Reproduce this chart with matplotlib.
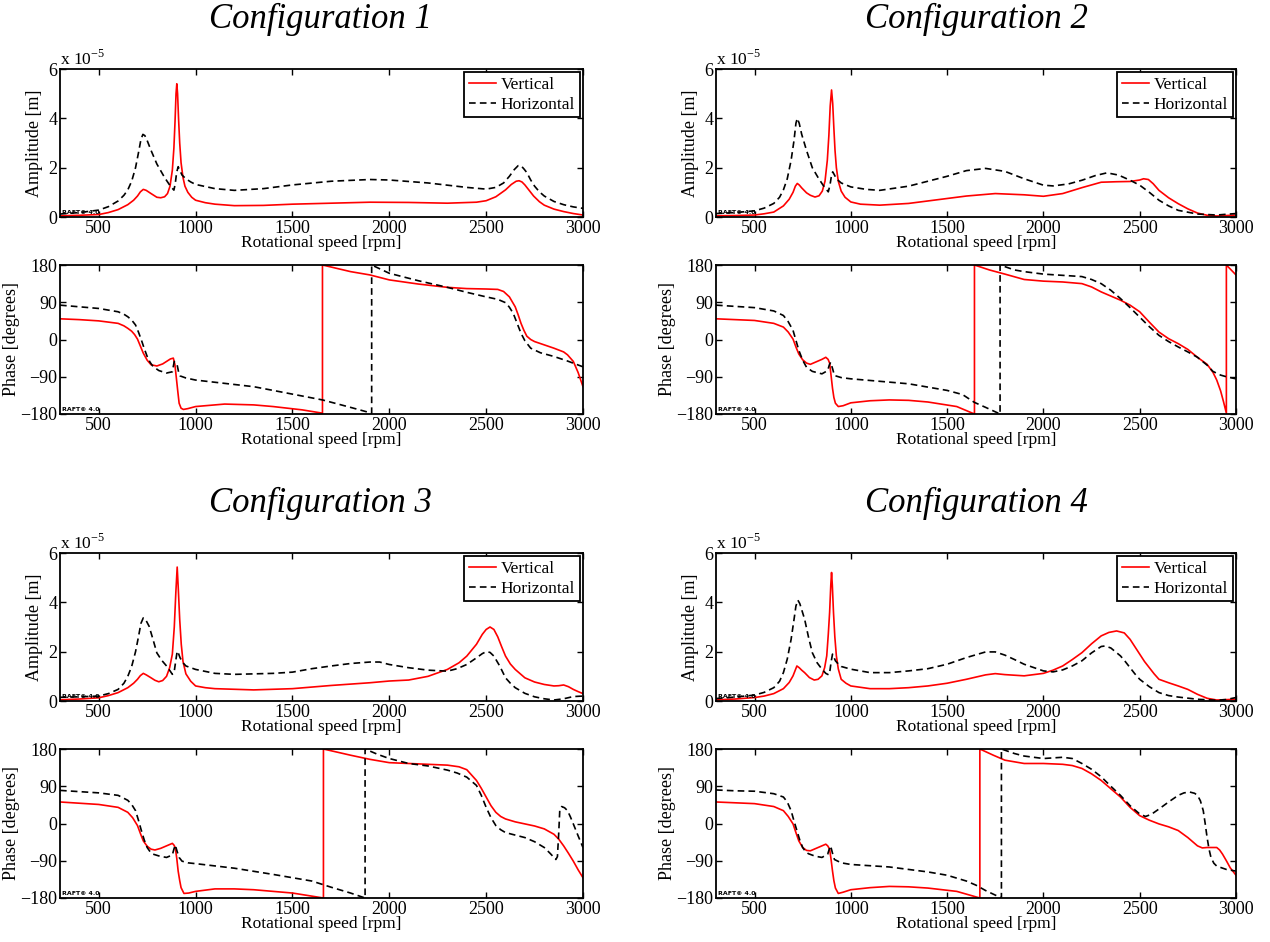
import numpy as np, matplotlib
matplotlib.use("Agg")
import matplotlib.pyplot as plt

plt.rcParams["font.family"] = ["Liberation Serif", "DejaVu Serif"]
plt.rcParams["mathtext.fontset"] = "custom"
plt.rcParams["mathtext.rm"] = "Liberation Serif"

# amplitude in units of 1e-5 m, phase in degrees; pairs are (rpm, value)
c1_amp_v = [(300,.05),(400,.07),(500,.1),(550,.18),(600,.3),(650,.5),(680,.68),(700,.85),(715,1.02),(730,1.12),(745,1.08),(770,.95),(800,.8),(820,.78),(840,.82),(855,.95),(868,1.25),(880,1.9),(888,2.8),(894,3.9),(899,5.0),(903,5.4),(907,5.0),(912,4.0),(918,3.0),(925,2.2),(935,1.6),(945,1.25),(960,1.0),(980,.8),(1000,.68),(1050,.58),(1100,.52),(1200,.46),(1350,.47),(1500,.52),(1700,.56),(1900,.6),(2100,.59),(2300,.56),(2450,.6),(2500,.66),(2550,.82),(2600,1.1),(2630,1.32),(2655,1.45),(2670,1.47),(2685,1.42),(2700,1.3),(2720,1.1),(2745,.85),(2775,.62),(2800,.48),(2850,.32),(2900,.22),(2950,.14),(3000,.08)]
c1_amp_h = [(300,.12),(400,.18),(500,.28),(550,.42),(600,.65),(630,.88),(650,1.1),(670,1.45),(690,2.0),(705,2.6),(718,3.15),(728,3.35),(738,3.3),(750,3.1),(770,2.7),(800,2.15),(840,1.6),(870,1.25),(888,1.09),(895,1.35),(902,1.8),(910,2.04),(918,1.9),(930,1.7),(950,1.55),(975,1.42),(1000,1.32),(1100,1.15),(1200,1.08),(1350,1.15),(1500,1.3),(1700,1.45),(1900,1.52),(2000,1.5),(2200,1.38),(2400,1.2),(2500,1.13),(2550,1.2),(2590,1.38),(2620,1.65),(2645,1.92),(2665,2.08),(2680,2.08),(2695,1.95),(2710,1.8),(2730,1.5),(2750,1.25),(2775,1.02),(2800,.85),(2850,.63),(2900,.5),(2950,.41),(3000,.35)]
c1_ph_v = [(300,50),(400,48),(500,45),(600,39),(630,33),(650,27),(670,20),(685,12),(700,1),(715,-16),(730,-33),(750,-50),(770,-61),(800,-64),(830,-59),(850,-53),(870,-47),(885,-45),(893,-60),(900,-90),(908,-125),(915,-154),(925,-166),(937,-169),(960,-167),(1000,-162),(1150,-156),(1300,-158),(1400,-162),(1550,-170),(1655,-178),(1655,180),(1800,164),(1900,156),(2000,144),(2150,134),(2300,126),(2400,123),(2500,122),(2560,121),(2590,116),(2620,103),(2650,79),(2665,60),(2680,39),(2695,22),(2710,8),(2730,0),(2750,-5),(2800,-13),(2850,-21),(2900,-30),(2920,-37),(2950,-53),(2975,-80),(3000,-114)]
c1_ph_h = [(300,83),(400,79),(500,75),(600,67),(630,61),(650,55),(670,47),(690,35),(705,18),(720,-1),(735,-22),(750,-41),(765,-55),(780,-65),(810,-75),(850,-81),(880,-78),(885,-65),(890,-53),(897,-56),(905,-62),(912,-78),(920,-88),(950,-93),(1000,-98),(1150,-106),(1300,-114),(1500,-132),(1655,-146),(1800,-164),(1909,-178),(1909,180),(2000,160),(2150,142),(2300,126),(2400,114),(2500,103),(2560,97),(2600,89),(2620,78),(2640,63),(2660,39),(2680,15),(2700,-3),(2730,-21),(2780,-32),(2850,-41),(2920,-52),(3000,-66)]

c2_amp_v = [(300,.05),(400,.06),(500,.08),(550,.13),(600,.2),(650,.45),(680,.72),(700,1.0),(712,1.25),(722,1.36),(732,1.3),(745,1.18),(770,.98),(790,.88),(814,.81),(835,.86),(852,1.05),(866,1.45),(878,2.3),(886,3.3),(893,4.5),(900,5.15),(906,4.6),(912,3.6),(918,2.7),(925,2.0),(935,1.45),(950,1.05),(970,.8),(1000,.61),(1050,.52),(1150,.48),(1300,.55),(1500,.75),(1600,.85),(1750,.95),(1900,.9),(2000,.84),(2100,.95),(2200,1.19),(2300,1.41),(2380,1.43),(2450,1.44),(2500,1.5),(2520,1.55),(2545,1.52),(2570,1.35),(2600,1.08),(2650,.78),(2700,.54),(2750,.33),(2800,.16),(2850,.07),(2900,.04),(3000,.08)]
c2_amp_h = [(300,.14),(400,.18),(500,.25),(550,.36),(600,.55),(630,.8),(650,1.1),(670,1.55),(690,2.3),(705,3.1),(715,3.8),(722,4.0),(732,3.8),(745,3.35),(770,2.7),(800,2.0),(830,1.6),(855,1.3),(875,1.1),(883,1.02),(892,1.3),(898,1.6),(906,1.83),(914,1.72),(925,1.55),(950,1.38),(1000,1.22),(1080,1.12),(1150,1.08),(1300,1.25),(1500,1.65),(1600,1.88),(1700,1.97),(1800,1.85),(1900,1.55),(2000,1.29),(2050,1.26),(2130,1.34),(2200,1.49),(2270,1.68),(2330,1.79),(2390,1.7),(2450,1.49),(2500,1.29),(2550,1.0),(2600,.68),(2650,.45),(2700,.27),(2800,.12),(2900,.08),(3000,.14)]
c2_ph_v = [(300,50),(400,48),(500,46),(600,39),(650,30),(675,18),(700,1),(715,-18),(730,-35),(750,-49),(770,-57),(790,-60),(820,-54),(850,-48),(870,-43),(882,-48),(890,-57),(897,-85),(905,-118),(912,-140),(920,-154),(935,-162),(960,-160),(1000,-153),(1100,-148),(1200,-146),(1300,-147),(1400,-151),(1550,-162),(1642,-180),(1642,180),(1720,168),(1800,158),(1900,145),(2000,141),(2100,139),(2200,135),(2250,127),(2300,115),(2400,95),(2450,83),(2500,67),(2550,42),(2600,18),(2650,2),(2700,-10),(2750,-24),(2800,-43),(2850,-60),(2880,-79),(2900,-98),(2920,-124),(2935,-150),(2950,-178),(2950,180),(3000,156)]
c2_ph_h = [(300,83),(400,80),(500,77),(600,69),(650,58),(675,43),(700,22),(715,-2),(730,-26),(750,-50),(770,-67),(800,-77),(850,-83),(880,-75),(888,-62),(895,-55),(905,-70),(915,-87),(950,-92),(1000,-95),(1150,-101),(1300,-107),(1500,-123),(1580,-133),(1642,-152),(1700,-164),(1775,-180),(1775,180),(1850,168),(1900,164),(2000,158),(2100,155),(2200,152),(2250,145),(2300,135),(2350,119),(2400,99),(2450,77),(2500,54),(2550,31),(2600,10),(2650,-5),(2700,-18),(2750,-30),(2800,-43),(2850,-62),(2880,-77),(2920,-86),(2950,-90),(3000,-95)]

c3_amp_v = [(300,.05),(400,.08),(500,.13),(550,.22),(600,.34),(650,.54),(680,.72),(700,.88),(715,1.03),(730,1.12),(745,1.06),(770,.94),(790,.84),(810,.78),(830,.83),(850,1.0),(866,1.35),(880,1.9),(890,3.0),(898,4.4),(905,5.43),(911,4.5),(918,3.3),(926,2.3),(935,1.6),(950,1.1),(975,.8),(1000,.61),(1050,.54),(1100,.5),(1300,.45),(1500,.5),(1700,.63),(1900,.74),(2000,.81),(2100,.85),(2200,1.0),(2300,1.28),(2360,1.55),(2400,1.82),(2450,2.3),(2480,2.7),(2500,2.9),(2520,3.0),(2540,2.9),(2560,2.6),(2580,2.2),(2600,1.82),(2625,1.5),(2650,1.28),(2700,.94),(2750,.77),(2800,.67),(2850,.61),(2875,.62),(2900,.65),(2925,.58),(2950,.47),(2975,.38),(3000,.3)]
c3_amp_h = [(300,.15),(400,.17),(500,.2),(550,.3),(600,.47),(630,.72),(650,1.0),(670,1.4),(690,2.0),(705,2.6),(718,3.15),(730,3.37),(742,3.3),(760,3.03),(780,2.5),(800,1.95),(825,1.65),(850,1.42),(870,1.2),(880,1.08),(890,1.21),(897,1.6),(905,2.02),(912,1.92),(920,1.75),(935,1.55),(950,1.42),(1000,1.28),(1100,1.12),(1200,1.08),(1400,1.12),(1500,1.17),(1600,1.31),(1700,1.42),(1800,1.52),(1900,1.58),(1950,1.58),(2000,1.48),(2100,1.35),(2200,1.25),(2300,1.21),(2350,1.31),(2400,1.48),(2450,1.75),(2480,1.92),(2500,2.0),(2520,1.97),(2540,1.82),(2570,1.42),(2600,.94),(2625,.72),(2650,.54),(2700,.31),(2750,.17),(2800,.09),(2850,.04),(2900,.09),(2950,.18),(3000,.2)]
c3_ph_v = [(300,52),(400,49),(500,46),(600,39),(650,27),(675,14),(700,-5),(715,-24),(730,-42),(750,-55),(770,-62),(790,-64),(820,-60),(850,-54),(880,-48),(888,-52),(895,-58),(903,-85),(910,-115),(918,-138),(925,-155),(940,-169),(965,-168),(1000,-164),(1100,-158),(1200,-158),(1300,-160),(1400,-164),(1500,-168),(1660,-180),(1660,180),(1800,165),(1900,155),(2000,147),(2100,145),(2200,143),(2300,141),(2360,137),(2400,130),(2450,104),(2475,85),(2500,64),(2525,43),(2550,27),(2575,17),(2600,11),(2650,4),(2700,-1),(2750,-6),(2800,-13),(2850,-26),(2875,-38),(2900,-54),(2925,-72),(2950,-91),(2975,-112),(3000,-131)]
c3_ph_h = [(300,80),(400,77),(500,74),(600,68),(650,56),(670,46),(690,31),(705,8),(720,-17),(735,-40),(750,-58),(765,-68),(780,-74),(815,-79),(850,-82),(880,-76),(888,-62),(895,-52),(905,-68),(915,-82),(930,-91),(960,-95),(1000,-97),(1200,-108),(1400,-123),(1600,-139),(1700,-154),(1800,-168),(1875,-180),(1875,180),(1940,167),(2000,157),(2100,145),(2200,139),(2300,129),(2350,122),(2400,112),(2450,92),(2475,68),(2500,39),(2525,14),(2550,-5),(2575,-15),(2600,-22),(2650,-28),(2700,-34),(2750,-44),(2800,-58),(2830,-72),(2860,-87),(2868,-80),(2875,-20),(2880,31),(2890,41),(2905,38),(2920,31),(2935,16),(2950,-1),(2975,-30),(3000,-58)]

c4_amp_v = [(300,.05),(400,.08),(500,.14),(550,.2),(600,.3),(650,.5),(680,.75),(700,1.02),(710,1.22),(720,1.42),(732,1.35),(745,1.25),(760,1.15),(785,.95),(810,.85),(830,.88),(850,1.02),(864,1.35),(875,1.83),(883,2.7),(890,3.6),(896,4.7),(900,5.21),(904,4.7),(910,3.6),(917,2.6),(925,1.83),(935,1.3),(950,.88),(975,.72),(1000,.61),(1100,.5),(1200,.5),(1300,.54),(1400,.61),(1500,.72),(1600,.88),(1700,1.06),(1750,1.11),(1800,1.07),(1900,1.02),(2000,1.12),(2050,1.25),(2100,1.42),(2150,1.68),(2200,1.96),(2250,2.32),(2300,2.64),(2340,2.78),(2380,2.84),(2420,2.76),(2450,2.5),(2475,2.2),(2500,1.9),(2525,1.6),(2550,1.35),(2575,1.1),(2600,.88),(2650,.74),(2700,.61),(2750,.47),(2800,.27),(2850,.11),(2900,.04),(3000,.07)]
c4_amp_h = [(300,.1),(400,.16),(500,.24),(550,.35),(600,.54),(630,.8),(650,1.15),(670,1.7),(690,2.5),(705,3.3),(715,3.85),(725,4.09),(735,3.95),(745,3.7),(760,3.32),(780,2.6),(800,1.96),(825,1.55),(850,1.29),(870,1.12),(885,1.06),(892,1.25),(898,1.6),(905,1.9),(912,1.78),(920,1.63),(935,1.5),(950,1.4),(1000,1.29),(1100,1.15),(1200,1.15),(1300,1.22),(1400,1.31),(1500,1.49),(1600,1.76),(1700,1.99),(1750,1.99),(1800,1.86),(1850,1.68),(1900,1.49),(2000,1.22),(2050,1.18),(2100,1.26),(2150,1.42),(2200,1.63),(2250,1.95),(2300,2.21),(2320,2.23),(2350,2.15),(2400,1.83),(2425,1.6),(2450,1.35),(2475,1.1),(2500,.88),(2550,.58),(2600,.34),(2650,.22),(2700,.16),(2800,.07),(2900,.03),(2950,.06),(3000,.14)]
c4_ph_v = [(300,52),(400,50),(500,48),(600,41),(650,31),(675,17),(700,-1),(715,-22),(730,-42),(750,-58),(770,-65),(790,-66),(820,-60),(850,-54),(870,-50),(880,-54),(890,-62),(897,-85),(905,-115),(912,-138),(920,-156),(935,-169),(960,-166),(1000,-160),(1100,-155),(1200,-152),(1300,-153),(1400,-156),(1550,-164),(1670,-180),(1670,180),(1740,165),(1800,153),(1900,145),(2000,145),(2100,143),(2150,140),(2200,133),(2250,120),(2300,104),(2350,84),(2400,64),(2450,39),(2500,19),(2550,8),(2600,-1),(2650,-8),(2700,-17),(2750,-34),(2800,-54),(2825,-59),(2850,-58),(2900,-58),(2915,-64),(2930,-74),(2950,-90),(2970,-107),(3000,-125)]
c4_ph_h = [(300,81),(400,79),(500,78),(600,72),(650,64),(670,52),(690,31),(705,6),(720,-17),(735,-40),(750,-58),(765,-68),(780,-73),(815,-79),(850,-82),(880,-74),(888,-62),(895,-54),(905,-72),(915,-87),(950,-95),(1000,-99),(1200,-105),(1400,-117),(1500,-125),(1600,-139),(1650,-149),(1700,-162),(1782,-180),(1782,180),(1850,169),(1900,163),(2000,157),(2100,160),(2150,157),(2200,145),(2250,131),(2300,113),(2350,90),(2400,68),(2450,43),(2500,23),(2530,17),(2560,22),(2600,35),(2650,52),(2700,68),(2730,74),(2760,76),(2785,73),(2800,68),(2815,55),(2830,31),(2840,0),(2850,-34),(2860,-62),(2870,-82),(2885,-96),(2900,-103),(2950,-111),(3000,-115)]

configs = ["Configuration 1", "Configuration 2", "Configuration 3", "Configuration 4"]
amp_v = [c1_amp_v, c2_amp_v, c3_amp_v, c4_amp_v]
amp_h = [c1_amp_h, c2_amp_h, c3_amp_h, c4_amp_h]
ph_v = [c1_ph_v, c2_ph_v, c3_ph_v, c4_ph_v]
ph_h = [c1_ph_h, c2_ph_h, c3_ph_h, c4_ph_h]

W, H = 1270, 942
fig = plt.figure(figsize=(W/100, H/100), dpi=100)

def box(l, r, t, b):
    return [l/W, 1-b/H, (r-l)/W, (b-t)/H]

def style(ax):
    ax.set_xlim(300, 3000)
    ax.set_xticks([500, 1000, 1500, 2000, 2500, 3000])
    ax.tick_params(direction="in", top=True, right=True, length=4.5, width=1, labelsize=13, pad=2)
    for s in ax.spines.values():
        s.set_linewidth(1.3)
    ax.set_xlabel("Rotational speed [rpm]", fontsize=12.5, labelpad=-1)
    ax.text(0.003, 0.015, "RAFT\u00a9 4.0", transform=ax.transAxes, fontsize=4.5,
            fontweight="bold", family="DejaVu Sans", va="bottom", ha="left")

cols = [(60, 583, 320), (716, 1236, 976)]
rows = [(69, 217, 265, 414, 19), (553, 701, 749, 898, 503)]

for i in range(4):
    l, r, cx = cols[i % 2]
    at, ab, pt, pb, ty = rows[i // 2]
    fig.text(cx/W, 1-ty/H, configs[i], fontsize=25, style="italic", ha="center", va="center")

    ax = fig.add_axes(box(l, r, at, ab))
    v = np.array(amp_v[i]).T; h = np.array(amp_h[i]).T
    ax.plot(v[0], v[1], color="red", lw=1.2, label="Vertical")
    ax.plot(h[0], h[1], color="black", lw=1.2, ls=(0, (4, 2.5)), label="Horizontal")
    ax.set_ylim(0, 6); ax.set_yticks([0, 2, 4, 6])
    ax.set_ylabel("Amplitude [m]", fontsize=13, labelpad=4)
    ax.text(0.0, 1.0, r"x 10$^{\mathregular{-5}}$", transform=ax.transAxes, fontsize=12.5,
            ha="left", va="bottom")
    style(ax)
    leg = ax.legend(loc="upper right", fontsize=12.5, fancybox=False, framealpha=1,
                    edgecolor="black", handlelength=1.6, handletextpad=0.25,
                    borderpad=0.25, labelspacing=0.2, borderaxespad=0.2)
    leg.get_frame().set_linewidth(1.3)

    ax = fig.add_axes(box(l, r, pt, pb))
    v = np.array(ph_v[i]).T; h = np.array(ph_h[i]).T
    ax.plot(v[0], v[1], color="red", lw=1.2)
    ax.plot(h[0], h[1], color="black", lw=1.2, ls=(0, (4, 2.5)))
    ax.set_ylim(-180, 180); ax.set_yticks([-180, -90, 0, 90, 180])
    ax.set_ylabel("Phase [degrees]", fontsize=13, labelpad=0)
    style(ax)

fig.savefig("out.png", dpi=100, facecolor="white")
